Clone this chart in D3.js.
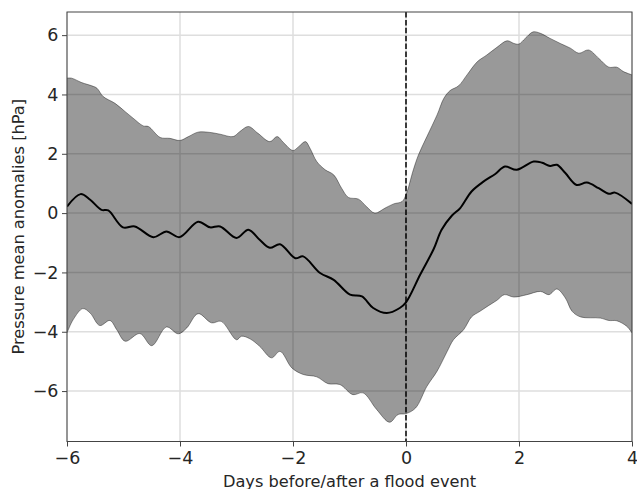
<!DOCTYPE html>
<html><head><meta charset="utf-8">
<script src="https://cdn.jsdelivr.net/npm/d3@7"></script>
<style>body{margin:0;background:#fff}svg{display:block}text{font-family:"DejaVu Sans",sans-serif}</style>
</head><body><svg id="c" width="637" height="489"></svg>
<script>
const xTicks=[-6,-4,-2,0,2,4];
const yTicks=[-6,-4,-2,0,2,4,6];
const upperDays=[-6,-5.92,-5.74,-5.56,-5.47,-5.36,-5.15,-4.97,-4.83,-4.65,-4.56,-4.35,-4.18,-4.0,-3.85,-3.68,-3.47,-3.29,-3.06,-2.94,-2.79,-2.62,-2.41,-2.28,-2.17,-2.0,-1.9,-1.78,-1.7,-1.58,-1.43,-1.28,-1.14,-1.02,-0.84,-0.7,-0.55,-0.37,-0.22,-0.07,0.0,0.13,0.22,0.37,0.55,0.67,0.78,0.93,1.08,1.26,1.43,1.61,1.79,1.91,2.0,2.11,2.25,2.38,2.55,2.73,2.91,3.06,3.23,3.41,3.59,3.73,3.85,4.0];
const upperValues=[4.55,4.55,4.40,4.29,4.21,3.93,3.70,3.42,3.20,2.94,2.92,2.55,2.52,2.45,2.58,2.73,2.72,2.66,2.58,2.75,2.92,2.69,2.41,2.58,2.38,2.11,2.24,2.41,2.19,1.74,1.46,1.29,0.84,0.53,0.47,0.22,0.00,0.17,0.31,0.39,0.62,1.46,1.96,2.58,3.31,3.87,4.13,4.29,4.66,5.10,5.33,5.59,5.81,5.72,5.70,5.89,6.11,6.06,5.89,5.72,5.56,5.39,5.50,5.22,4.92,4.92,4.77,4.66];
const lowerDays=[-6,-5.89,-5.72,-5.59,-5.42,-5.24,-5.12,-4.97,-4.71,-4.5,-4.24,-4.03,-3.88,-3.68,-3.44,-3.27,-3.0,-2.91,-2.76,-2.59,-2.38,-2.23,-2.02,-1.82,-1.58,-1.38,-1.17,-0.94,-0.76,-0.52,-0.29,-0.14,0.0,0.17,0.37,0.55,0.73,0.84,1.02,1.16,1.31,1.46,1.61,1.74,1.91,2.14,2.38,2.53,2.67,2.82,2.94,3.09,3.44,3.59,3.73,3.91,4.0];
const lowerValues=[-4.04,-3.59,-3.22,-3.37,-3.79,-3.62,-3.93,-4.32,-4.06,-4.47,-3.84,-4.07,-3.87,-3.39,-3.70,-3.65,-4.27,-4.15,-4.24,-4.49,-4.88,-4.66,-5.22,-5.44,-5.52,-5.75,-5.78,-6.12,-6.06,-6.62,-7.05,-6.79,-6.76,-6.57,-5.84,-5.33,-4.66,-4.27,-3.93,-3.50,-3.31,-3.12,-2.94,-2.75,-2.83,-2.75,-2.64,-2.75,-2.56,-2.86,-3.31,-3.50,-3.54,-3.62,-3.63,-3.82,-4.04];
const meanDays=[-6,-5.76,-5.59,-5.39,-5.27,-5.01,-4.8,-4.47,-4.24,-4.01,-3.68,-3.47,-3.29,-3.0,-2.79,-2.59,-2.41,-2.23,-1.96,-1.82,-1.52,-1.28,-0.99,-0.78,-0.58,-0.34,-0.11,0.0,0.25,0.49,0.63,0.81,0.96,1.16,1.37,1.58,1.75,1.96,2.26,2.41,2.55,2.67,2.82,3.02,3.2,3.41,3.59,3.7,4.0];
const meanValues=[0.22,0.64,0.45,0.11,0.09,-0.48,-0.45,-0.81,-0.62,-0.81,-0.29,-0.48,-0.45,-0.84,-0.56,-0.90,-1.17,-1.05,-1.52,-1.46,-2.02,-2.25,-2.75,-2.81,-3.20,-3.37,-3.20,-3.01,-2.08,-1.21,-0.56,-0.09,0.17,0.73,1.06,1.32,1.57,1.46,1.74,1.70,1.59,1.63,1.35,0.95,1.03,0.84,0.65,0.69,0.31];

const svg=d3.select("#c");
const m={l:67,r:632,t:12,b:441.5};
const x=d3.scaleLinear().domain([-6,4]).range([m.l,m.r]);
const y=d3.scaleLinear().domain([-7.7,6.78]).range([m.b,m.t]);

// grid
const g=svg.append("g");
g.selectAll(".gx").data(xTicks).join("line").attr("x1",d=>x(d)).attr("x2",d=>x(d)).attr("y1",m.t).attr("y2",m.b).attr("stroke","#dedede").attr("stroke-width",1.5);
g.selectAll(".gy").data(yTicks).join("line").attr("y1",d=>y(d)).attr("y2",d=>y(d)).attr("x1",m.l).attr("x2",m.r).attr("stroke","#dedede").attr("stroke-width",1.5);

svg.append("clipPath").attr("id","cp").append("rect").attr("x",m.l).attr("y",m.t).attr("width",m.r-m.l).attr("height",m.b-m.t);
const plot=svg.append("g").attr("clip-path","url(#cp)");

const up=upperDays.map((d,i)=>[d,upperValues[i]]);
const lo=lowerDays.map((d,i)=>[d,lowerValues[i]]);
const mean=meanDays.map((d,i)=>[d,meanValues[i]]);
const line=d3.line().x(d=>x(d[0])).y(d=>y(d[1])).curve(d3.curveCatmullRom.alpha(0.5));
const band=line(up)+"L"+line(lo.slice().reverse()).slice(1)+"Z";
plot.append("path").attr("d",band).attr("fill","#000").attr("fill-opacity",0.4).attr("stroke","none");
plot.append("path").attr("d",line(up)).attr("fill","none").attr("stroke","#000").attr("stroke-opacity",0.4).attr("stroke-width",1);
plot.append("path").attr("d",line(lo)).attr("fill","none").attr("stroke","#000").attr("stroke-opacity",0.4).attr("stroke-width",1);
plot.append("path").attr("d",line(mean)).attr("fill","none").attr("stroke","#000").attr("stroke-width",2);
plot.append("line").attr("x1",x(0)).attr("x2",x(0)).attr("y1",m.t).attr("y2",m.b).attr("stroke","#000").attr("stroke-width",1.5).attr("stroke-dasharray","5.5,2.4");

// axes
const fmt=d=>d<0?"\u2212"+Math.abs(d):d;
const xa=svg.append("g").attr("transform",`translate(0,${m.b})`).call(d3.axisBottom(x).tickValues(xTicks).tickSize(5).tickPadding(5).tickFormat(fmt));
const ya=svg.append("g").attr("transform",`translate(${m.l},0)`).call(d3.axisLeft(y).tickValues(yTicks).tickSize(5).tickPadding(3.5).tickFormat(fmt));
[xa,ya].forEach(a=>{a.select(".domain").remove();a.selectAll("line").attr("stroke","#444");a.selectAll("text").attr("fill","#262626").style("font-size","17.5px").style("font-family","DejaVu Sans");});
svg.append("rect").attr("x",m.l).attr("y",m.t).attr("width",m.r-m.l).attr("height",m.b-m.t).attr("fill","none").attr("stroke","#444").attr("stroke-width",1);

svg.append("text").attr("x",(m.l+m.r)/2).attr("y",486.5).attr("text-anchor","middle").style("font-size","16.2px").attr("fill","#262626").text("Days before/after a flood event");
svg.append("text").attr("transform",`translate(23.5,${(m.t+m.b)/2}) rotate(-90)`).attr("text-anchor","middle").style("font-size","16.2px").attr("fill","#262626").text("Pressure mean anomalies [hPa]");
</script></body></html>
